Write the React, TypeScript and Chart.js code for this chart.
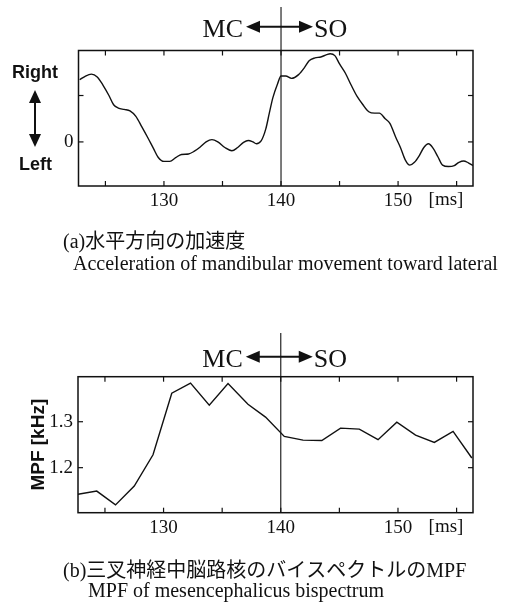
import { useEffect, useRef } from "react";
import { Chart, registerables } from "chart.js";

Chart.register(...registerables);

// ---- data ----
const accelTimes = [
  122.8, 123.3, 123.8, 124.3, 124.8, 125.3, 125.7, 126.1, 126.6, 127.1, 127.6, 128.1, 128.6, 129.1, 129.5,
  130.0, 130.5, 131.0, 131.5, 132.1, 132.6, 133.1, 133.6, 134.1, 134.6, 135.2, 135.8, 136.3, 136.8, 137.2,
  137.6, 137.9, 138.3, 138.7, 139.0, 139.3, 139.7, 140.0, 140.4, 140.9, 141.5, 142.0, 142.4, 142.9, 143.4,
  143.9, 144.2, 144.6, 145.0, 145.5, 146.0, 146.5, 147.0, 147.5, 148.0, 148.4, 148.9, 149.3, 149.8, 150.2,
  150.6, 151.0, 151.4, 151.8, 152.2, 152.6, 153.0, 153.4, 153.8, 154.3, 154.8, 155.2, 155.6, 156.0, 156.4,
];
const accelValues = [
  1.34, 1.42, 1.46, 1.40, 1.22, 1.0, 0.8, 0.73, 0.7, 0.67, 0.55, 0.33, 0.1, -0.14, -0.33,
  -0.42, -0.42, -0.34, -0.27, -0.26, -0.2, -0.11, 0.0, 0.05, 0.0, -0.12, -0.19, -0.12, -0.01, 0.03,
  0.0, -0.04, 0.02, 0.28, 0.62, 0.95, 1.25, 1.42, 1.42, 1.37, 1.45, 1.6, 1.75, 1.81, 1.83,
  1.88, 1.9, 1.86, 1.68, 1.48, 1.22, 0.98, 0.8, 0.65, 0.62, 0.62, 0.5, 0.4, 0.1, -0.12,
  -0.38, -0.5, -0.44, -0.3, -0.12, -0.04, -0.14, -0.32, -0.5, -0.53, -0.51, -0.44, -0.41, -0.45, -0.51,
];
const mpfTimes = [
  122.7, 124.3, 125.9, 127.5, 129.1, 130.7, 132.3, 133.9, 135.5, 137.2, 138.7,
  140.3, 141.9, 143.5, 145.1, 146.7, 148.3, 149.9, 151.5, 153.1, 154.7, 156.3,
];
const mpfValues = [
  1.142, 1.149, 1.119, 1.16, 1.228, 1.362, 1.384, 1.336, 1.383, 1.338, 1.31,
  1.268, 1.26, 1.259, 1.286, 1.284, 1.261, 1.299, 1.271, 1.255, 1.279, 1.221,
];
const xTickLabels = [130, 140, 150];
const accelTickLabels = [0];
const mpfTickLabels = [1.2, 1.3];
const boundaryTime = 140;
const captionA = ["(a)水平方向の加速度", "Acceleration of mandibular movement toward lateral"];
const captionB = ["(b)三叉神経中脳路核のバイスペクトルのMPF", "MPF of mesencephalicus bispectrum"];

const SERIF = "'Liberation Serif', 'Noto Sans CJK JP', serif";
const SANS = "'Liberation Sans', Arial, sans-serif";
const INK = "#111";

function line(ctx: CanvasRenderingContext2D, x1: number, y1: number, x2: number, y2: number) {
  ctx.beginPath();
  ctx.moveTo(x1, y1);
  ctx.lineTo(x2, y2);
  ctx.stroke();
}

function head(ctx: CanvasRenderingContext2D, tx: number, ty: number, dx: number, dy: number, len: number, half: number) {
  const bx = tx - dx * len;
  const by = ty - dy * len;
  const px = -dy;
  const py = dx;
  ctx.beginPath();
  ctx.moveTo(tx, ty);
  ctx.lineTo(bx + px * half, by + py * half);
  ctx.lineTo(bx - px * half, by - py * half);
  ctx.closePath();
  ctx.fill();
}

type Caption = { text: string; x: number; y: number };

type PanelProps = {
  height: number;
  times: number[];
  values: number[];
  smooth: boolean;
  yMin: number;
  yMax: number;
  yStep: number;
  yLabels: number[];
  yDigits: number;
  yTitle?: string;
  padTop: number;
  padBottom: number;
  yWidth: number;
  lineTop: number;
  arrowY: number;
  captions: Caption[];
  rightLeft?: boolean;
};

function Panel(p: PanelProps) {
  const ref = useRef<HTMLCanvasElement>(null);
  useEffect(() => {
    const overlay = {
      id: "overlay",
      afterDraw(chart: any) {
        const { ctx, chartArea: a } = chart;
        const xs = chart.scales.x;
        const ys = chart.scales.y;
        ctx.save();
        ctx.strokeStyle = INK;
        ctx.fillStyle = INK;
        // frame
        ctx.lineWidth = 1.5;
        ctx.strokeRect(a.left, a.top, a.right - a.left, a.bottom - a.top);
        // inward ticks
        ctx.lineWidth = 1.2;
        for (const t of xs.ticks) {
          const px = xs.getPixelForValue(t.value);
          line(ctx, px, a.bottom, px, a.bottom - 5);
          line(ctx, px, a.top, px, a.top + 5);
        }
        for (const t of ys.ticks) {
          const py = ys.getPixelForValue(t.value);
          line(ctx, a.left, py, a.left + 5, py);
          line(ctx, a.right, py, a.right - 5, py);
        }
        // boundary line
        const bx = xs.getPixelForValue(boundaryTime);
        ctx.lineWidth = 1.1;
        line(ctx, bx, p.lineTop, bx, a.bottom);
        // MC <-> SO
        ctx.lineWidth = 2;
        const l = bx - 35;
        const r = bx + 32;
        line(ctx, l + 8, p.arrowY, r - 8, p.arrowY);
        head(ctx, l, p.arrowY, -1, 0, 14, 6);
        head(ctx, r, p.arrowY, 1, 0, 14, 6);
        ctx.font = `26px ${SERIF}`;
        ctx.textBaseline = "alphabetic";
        ctx.textAlign = "right";
        ctx.fillText("MC", bx - 38, p.arrowY + 10);
        ctx.textAlign = "left";
        ctx.fillText("SO", bx + 33, p.arrowY + 10);
        // unit
        ctx.font = `19px ${SERIF}`;
        ctx.textAlign = "center";
        ctx.textBaseline = "middle";
        ctx.fillText("[ms]", 446, a.bottom + 14.5);
        // Right / Left
        if (p.rightLeft) {
          ctx.font = `bold 18px ${SANS}`;
          ctx.fillText("Right", 35, 73.5);
          ctx.fillText("Left", 35.5, 165);
          ctx.lineWidth = 2;
          line(ctx, 35, 98, 35, 139);
          head(ctx, 35, 90, 0, -1, 13, 6);
          head(ctx, 35, 147, 0, 1, 13, 6);
        }
        // captions
        ctx.font = `20px ${SERIF}`;
        ctx.textAlign = "left";
        ctx.textBaseline = "middle";
        for (const c of p.captions) ctx.fillText(c.text, c.x, c.y);
        ctx.restore();
      },
    };

    const chart = new Chart(ref.current!, {
      type: "line",
      data: {
        datasets: [
          {
            data: p.times.map((t, i) => ({ x: t, y: p.values[i] })),
            borderColor: INK,
            borderWidth: 1.4,
            pointRadius: 0,
            fill: false,
            tension: p.smooth ? 0.4 : 0,
            cubicInterpolationMode: p.smooth ? "monotone" : "default",
          },
        ],
      },
      options: {
        animation: false,
        responsive: false,
        events: [],
        layout: { padding: { left: 0, right: 45, top: p.padTop, bottom: p.padBottom } },
        plugins: { legend: { display: false }, tooltip: { enabled: false }, title: { display: false } },
        scales: {
          x: {
            type: "linear",
            min: 122.7,
            max: 156.4,
            grid: { display: false, drawTicks: false, tickLength: 0 },
            border: { display: false },
            ticks: {
              stepSize: 5,
              includeBounds: false,
              autoSkip: false,
              maxRotation: 0,
              padding: 4,
              color: INK,
              font: { family: SERIF, size: 19 },
              callback: (v: any) => (xTickLabels.includes(Number(v)) ? String(v) : ""),
            },
            afterFit: (s: any) => {
              s.height = 30;
            },
          },
          y: {
            type: "linear",
            min: p.yMin,
            max: p.yMax,
            grid: { display: false, drawTicks: false, tickLength: 0 },
            border: { display: false },
            title: p.yTitle
              ? {
                  display: true,
                  text: p.yTitle,
                  color: INK,
                  font: { family: SANS, size: 19, weight: "bold" },
                  padding: { top: 27, bottom: 0 },
                }
              : { display: false },
            ticks: {
              stepSize: p.yStep,
              includeBounds: false,
              autoSkip: false,
              padding: 5,
              color: INK,
              font: { family: SERIF, size: 19 },
              callback: (v: any) => {
                const n = Number(v);
                const hit = p.yLabels.find((q) => Math.abs(q - n) < 1e-6);
                return hit === undefined ? "" : hit.toFixed(p.yDigits);
              },
            },
            afterFit: (s: any) => {
              s.width = p.yWidth;
            },
          },
        },
      },
      plugins: [overlay],
    } as any);
    return () => chart.destroy();
  }, []);
  return <canvas ref={ref} width={518} height={p.height} style={{ display: "block", width: 518, height: p.height }} />;
}

export default function App() {
  return (
    <div style={{ position: "absolute", left: 0, top: 0, width: 518, height: 610, background: "#fff" }}>
      <Panel
        height={300}
        times={accelTimes}
        values={accelValues}
        smooth={true}
        yMin={-0.95}
        yMax={1.97}
        yStep={1}
        yLabels={accelTickLabels}
        yDigits={0}
        padTop={50.5}
        padBottom={84}
        yWidth={78.5}
        lineTop={7}
        arrowY={26.7}
        rightLeft={true}
        captions={[
          { text: captionA[0], x: 63, y: 243 },
          { text: captionA[1], x: 73, y: 265 },
        ]}
      />
      <Panel
        height={310}
        times={mpfTimes}
        values={mpfValues}
        smooth={false}
        yMin={1.102}
        yMax={1.398}
        yStep={0.1}
        yLabels={mpfTickLabels}
        yDigits={1}
        yTitle="MPF [kHz]"
        padTop={76.7}
        padBottom={67.3}
        yWidth={78}
        lineTop={33}
        arrowY={56.7}
        captions={[
          { text: captionB[0], x: 63, y: 272 },
          { text: captionB[1], x: 88, y: 292 },
        ]}
      />
    </div>
  );
}
